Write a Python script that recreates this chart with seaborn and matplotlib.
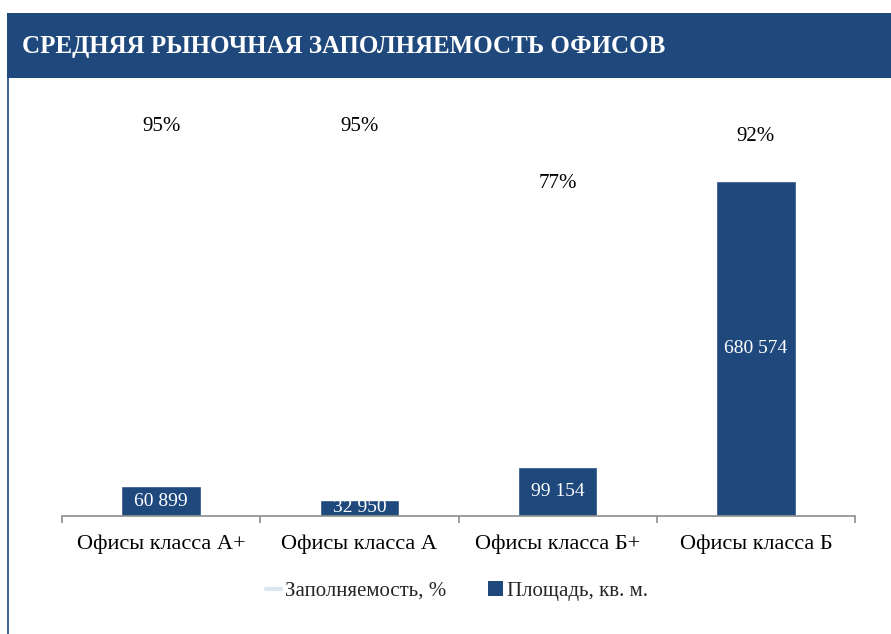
import matplotlib
matplotlib.use('Agg')
import matplotlib.pyplot as plt
import seaborn as sns
import pandas as pd
from matplotlib.patches import Rectangle, Patch
from matplotlib.lines import Line2D

# Data
categories = ['Офисы класса А+', 'Офисы класса А', 'Офисы класса Б+', 'Офисы класса Б']
area = [60899, 32950, 99154, 680574]          # Площадь, кв. м.
occupancy = [95, 95, 77, 92]                   # Заполняемость, %

bar_color = '#1F497D'
line_color = '#DCE6F2'

sns.set_theme(style='white')
plt.rcParams['font.family'] = ['Liberation Serif', 'DejaVu Serif']

df = pd.DataFrame({'cat': categories, 'area': area, 'occ': occupancy})

fig = plt.figure(figsize=(8.91, 6.34), dpi=100)
W, H = 891, 634

# header bar and left border
fig.patches.append(Rectangle((7 / W, 1 - 78 / H), 1 - 7 / W, 65 / H, transform=fig.transFigure,
                             facecolor=bar_color, edgecolor='none', zorder=0))
fig.lines.append(Line2D([7.5 / W, 7.5 / W], [0, 1 - 78 / H], transform=fig.transFigure,
                        color=bar_color, linewidth=1.2))
fig.text(22 / W, 1 - 47 / H, 'СРЕДНЯЯ РЫНОЧНАЯ ЗАПОЛНЯЕМОСТЬ ОФИСОВ', color='white',
         fontsize=18, fontweight='bold', va='center', ha='left')

ax = fig.add_axes([62 / W, 1 - 516 / H, 793 / W, 416 / H])
sns.barplot(data=df, x='cat', y='area', color=bar_color, width=0.4, saturation=1, ax=ax)
ax.set_xlim(-0.5, len(categories) - 0.5)
ax.set_ylim(0, 845000)
ax.set_xlabel('')
ax.set_ylabel('')
ax.set_yticks([])
for s in ['top', 'right', 'left']:
    ax.spines[s].set_visible(False)
ax.spines['bottom'].set_color('#8C8C8C')
ax.spines['bottom'].set_linewidth(1.2)
ax.set_xticks([i - 0.5 for i in range(len(categories) + 1)], minor=True)
ax.tick_params(axis='x', which='major', bottom=True, length=0, labelsize=16, pad=13, colors='black')
ax.tick_params(axis='x', which='minor', bottom=True, length=5, width=1.2, color='#8C8C8C', direction='out')

for i, v in enumerate(area):
    ax.text(i, v / 2, f'{v:,}'.replace(',', ' '), color='white', fontsize=14,
            ha='center', va='center')

# occupancy series on secondary axis (line not visible, only labels)
ax2 = ax.twinx()
sns.lineplot(x=list(range(len(categories))), y=occupancy, color=line_color, alpha=0, ax=ax2)
ax2.set_ylim(-27.9, 103.5)
ax2.axis('off')
for i, v in enumerate(occupancy):
    ax2.text(i, v, f'{v}%', fontsize=15, ha='center', va='center', color='black')

handles = [Line2D([0], [0], color=line_color, linewidth=3),
           Patch(facecolor=bar_color, edgecolor='none')]
fig.legend(handles, ['Заполняемость, %', 'Площадь, кв. м.'], loc='center',
           bbox_to_anchor=(457 / W, 1 - 591 / H), ncol=2, frameon=False, fontsize=15,
           handlelength=0.7, handleheight=0.7, handletextpad=0.2, columnspacing=2.0)

fig.savefig('out.png', dpi=100)
